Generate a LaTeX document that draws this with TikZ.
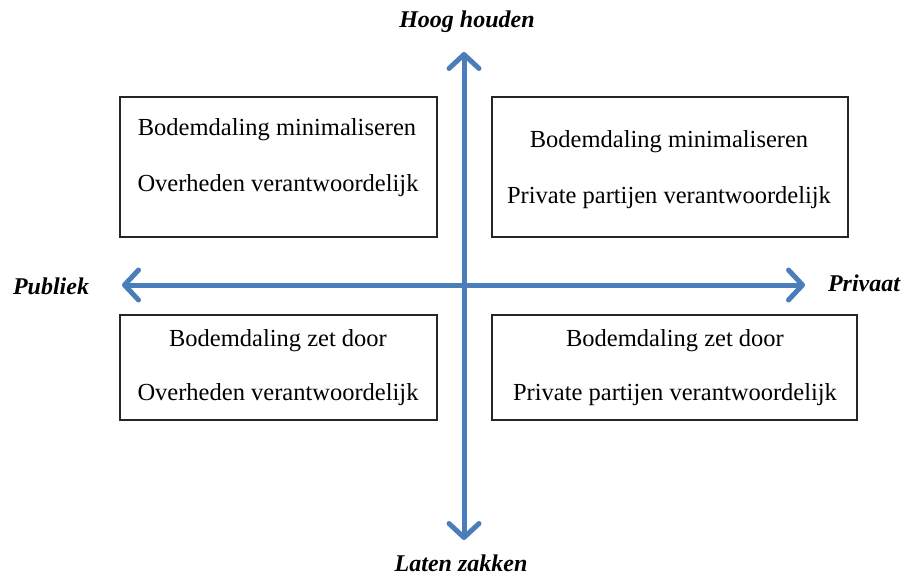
\documentclass[tikz,border=0pt]{standalone}
\usepackage{fontspec}
\setmainfont{Liberation Serif}
\usetikzlibrary{arrows.meta}
\definecolor{axisblue}{HTML}{4A7EBB}
\begin{document}
\begin{tikzpicture}[x=1pt,y=-1pt,
  quad/.style={draw=black!85, line width=1.6pt, fill=white},
  qtext/.style={font=\fontsize{24.5}{28}\selectfont, anchor=center},
  axlabel/.style={font=\fontsize{24}{28}\selectfont\bfseries\itshape},
  axis/.style={draw=axisblue, line width=5pt, line cap=round,
    {Straight Barb[length=14pt,width=30pt,round]}-{Straight Barb[length=14pt,width=30pt,round]}}]
\useasboundingbox (0,0) rectangle (917,578);
% boxes
\draw[quad] (120,97) rectangle (437,237);
\draw[quad] (492,97) rectangle (848,237);
\draw[quad] (120,315) rectangle (437,420);
\draw[quad] (492,315) rectangle (857,420);
\node[qtext] (tl1) at (277,130) {Bodemdaling minimaliseren};
\node[qtext] (tl2) at (278,186) {Overheden verantwoordelijk};
\node[qtext] (tr1) at (669,142) {Bodemdaling minimaliseren};
\node[qtext] (tr2) at (669,198) {Private partijen verantwoordelijk};
\node[qtext] (bl1) at (278,341) {Bodemdaling zet door};
\node[qtext] (bl2) at (278,395) {Overheden verantwoordelijk};
\node[qtext] (br1) at (675,341) {Bodemdaling zet door};
\node[qtext] (br2) at (675,395) {Private partijen verantwoordelijk};
% axes
\coordinate (top) at (464,52);
\coordinate (bot) at (464,540);
\coordinate (lft) at (122,285);
\coordinate (rgt) at (805,285);
\draw[axis] (bot) -- (top);
\draw[axis] (lft) -- (rgt);
% labels
\node[axlabel] (hoog) at (467,22) {Hoog houden};
\node[axlabel] (laten) at (461,563) {Laten zakken};
\node[axlabel] (publ) at (51,286) {Publiek};
\node[axlabel] (priv) at (864,283) {Privaat};
\end{tikzpicture}
\end{document}
